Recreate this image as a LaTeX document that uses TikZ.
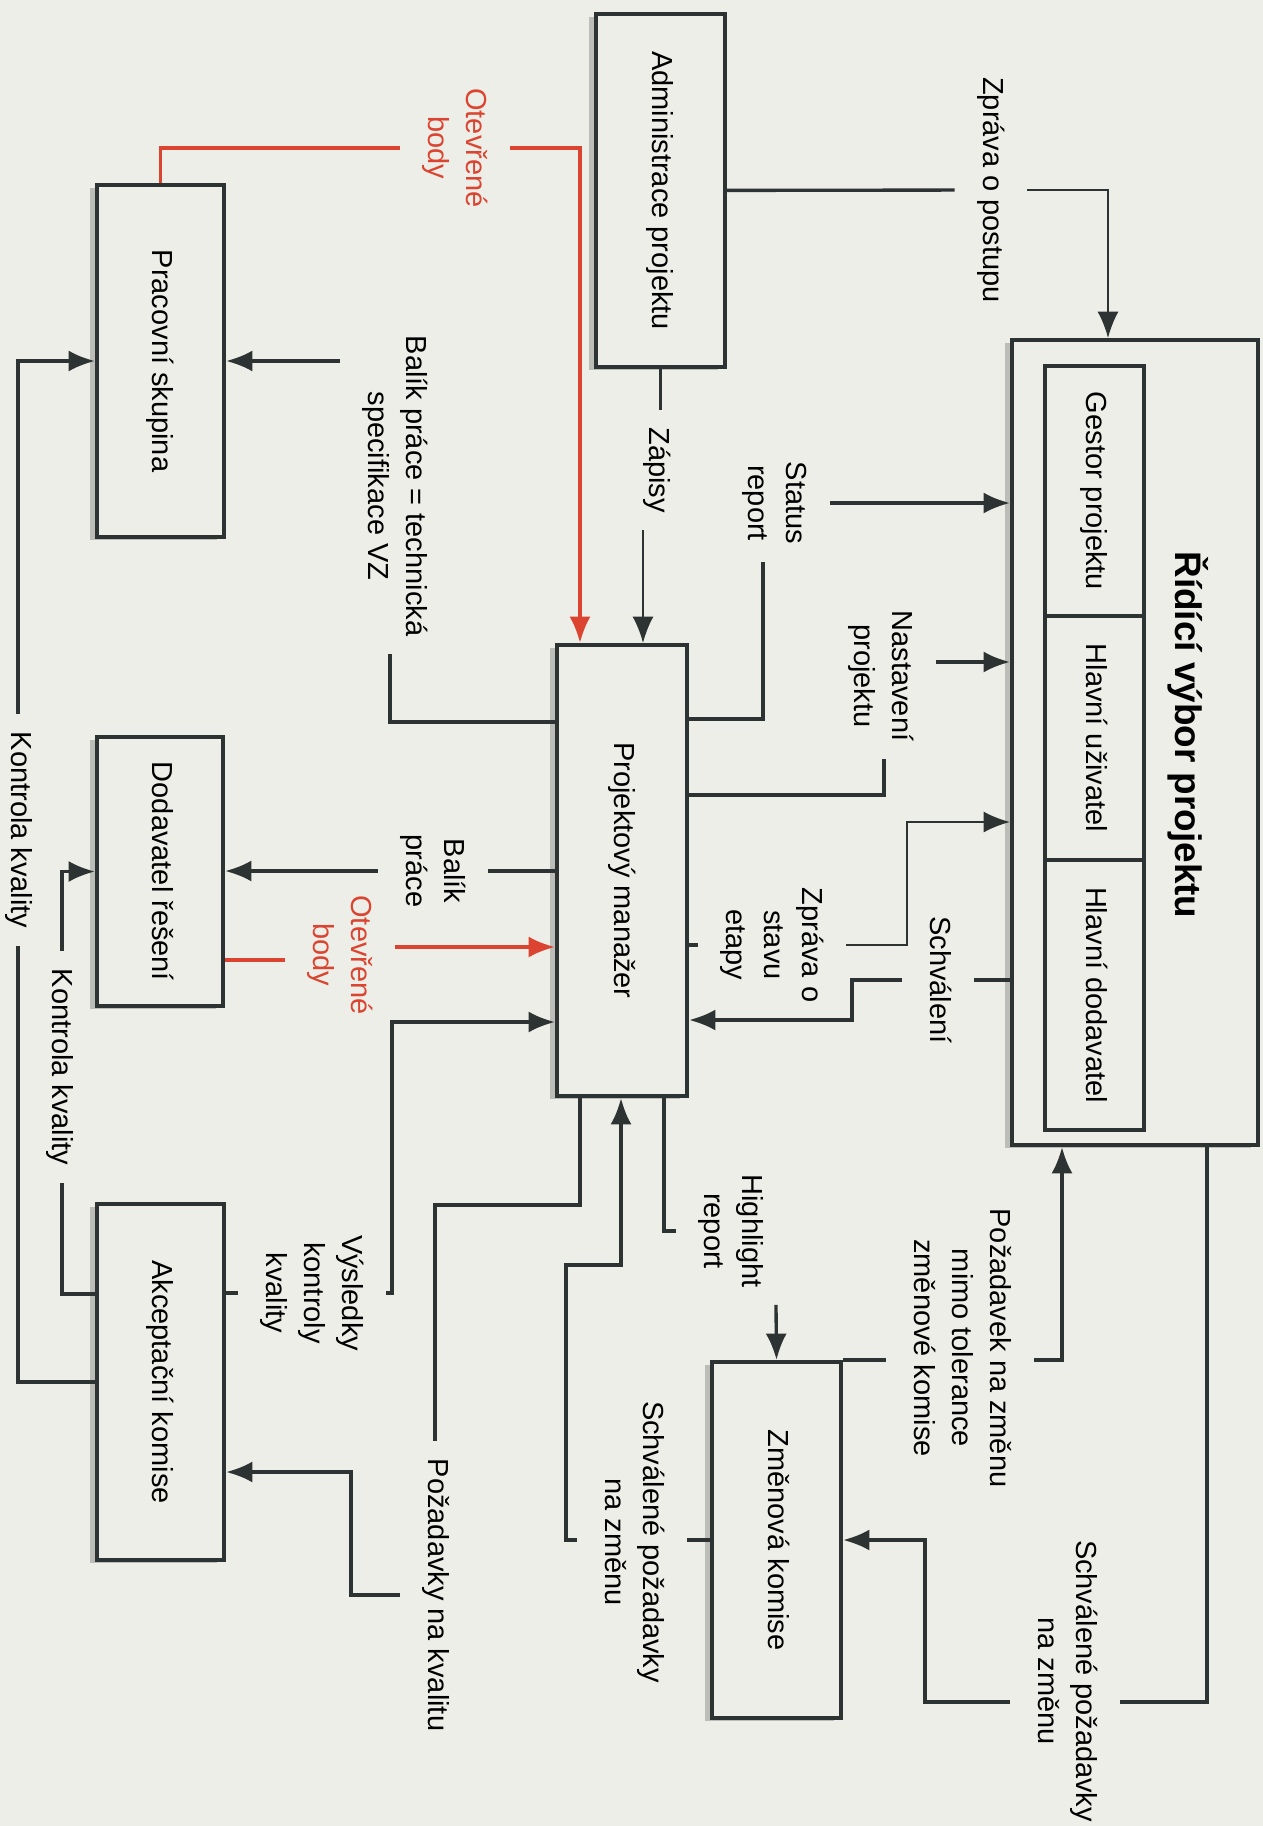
\documentclass[tikz,border=0pt]{standalone}
\usepackage{fontspec}
\setmainfont{Liberation Sans}
\usepackage{graphicx}
\usetikzlibrary{arrows.meta,shadows}
\definecolor{paper}{RGB}{238,238,232}
\definecolor{ink}{RGB}{45,50,50}
\definecolor{redink}{RGB}{218,68,48}
\newcommand{\vtxt}[1]{\rotatebox{-90}{\begin{tabular}{@{}c@{}}#1\end{tabular}}}
\begin{document}
\begin{tikzpicture}[>={Latex[length=15pt,width=12pt]}, x=0.02cm, y=-0.02cm,
  color=ink, line width=1.9pt,
  box/.style={draw=ink, line width=2.4pt, fill=paper, inner sep=0pt, text=black,
    font=\fontsize{16.5}{21.6}\selectfont,
    drop shadow={shadow xshift=-4pt, shadow yshift=-1.5pt, opacity=.45}},
  part/.style={draw=ink, line width=1.9pt, inner sep=0pt, minimum width=1.98cm,
    text=black, font=\fontsize{16.5}{21.6}\selectfont},
  lbl/.style={inner sep=9pt, text=black, font=\fontsize{16.5}{21.6}\selectfont},
  redlbl/.style={lbl, text=redink},
  redwire/.style={draw=redink},
  fine/.style={line width=1.2pt}]
\fill[paper] (0,0) rectangle (1263,1826);
\useasboundingbox (0,0) rectangle (1263,1826);

\node[box, minimum width=2.58cm, minimum height=7.06cm] (adm) at (660.5,190.5) {\vtxt{Administrace projektu}};
\node[box, minimum width=4.92cm, minimum height=16.1cm] (rvp) at (1135,742.5) {};
\node[part, minimum height=5cm] (gest) at (1094.5,491) {\vtxt{Gestor projektu}};
\node[part, minimum height=4.88cm] (uziv) at (1094.5,738) {\vtxt{Hlavní uživatel}};
\node[part, minimum height=5.4cm] (dod) at (1094.5,995) {\vtxt{Hlavní dodavatel}};
\node[text=black, font=\fontsize{21}{25}\selectfont\bfseries] (rvpt) at (1185,735) {\vtxt{Řídící výbor projektu}};
\node[box, minimum width=2.54cm, minimum height=7.04cm] (pracovni) at (160.5,361) {\vtxt{Pracovní skupina}};
\node[box, minimum width=2.6cm, minimum height=9.02cm] (pm) at (622,870.5) {\vtxt{Projektový manažer}};
\node[box, minimum width=2.52cm, minimum height=5.38cm] (dodavatel) at (160,871.5) {\vtxt{Dodavatel řešení}};
\node[box, minimum width=2.54cm, minimum height=7.12cm] (akc) at (160.5,1382) {\vtxt{Akceptační komise}};
\node[box, minimum width=2.58cm, minimum height=7.12cm] (zmen) at (776.5,1540) {\vtxt{Změnová komise}};

\node[lbl] (lzp) at (991,190) {\vtxt{Zpráva o postupu}};
\node[redlbl] (lob1) at (455,148) {\vtxt{Otevřené\\body}};
\node[lbl] (lzap) at (657,470) {\vtxt{Zápisy}};
\node[lbl] (lstat) at (775,503) {\vtxt{Status\\report}};
\node[lbl] (lnast) at (881,676) {\vtxt{Nastavení\\projektu}};
\node[lbl] (letap) at (772,945) {\vtxt{Zpráva o\\stavu\\etapy}};
\node[lbl] (lschv) at (938,980) {\vtxt{Schválení}};
\node[lbl] (lbal1) at (395,486) {\vtxt{Balík práce = technická\\specifikace VZ}};
\node[lbl] (lbal2) at (433,871) {\vtxt{Balík\\práce}};
\node[redlbl] (lob2) at (340,955) {\vtxt{Otevřené\\body}};
\node[lbl] (lvys) at (312,1293) {\vtxt{Výsledky\\kontroly\\kvality}};
\node[lbl] (lpkv) at (436,1595) {\vtxt{Požadavky na kvalitu}};
\node[lbl] (lspz1) at (632,1542) {\vtxt{Schválené požadavky\\na změnu}};
\node[lbl] (lhr) at (731,1231) {\vtxt{Highlight\\report}};
\node[lbl] (lpoz) at (960,1348) {\vtxt{Požadavek na změnu\\mimo tolerance\\změnové komise}};
\node[lbl] (lspz2) at (1065,1681) {\vtxt{Schválené požadavky\\na změnu}};
\node[lbl] (lkk1) at (19,830) {\vtxt{Kontrola kvality}};
\node[lbl] (lkk2) at (60,1067) {\vtxt{Kontrola kvality}};

\draw (adm) -- (lzp);
\draw[fine, ->] (lzp) -| (1108,0 |- rvp.north);
\draw[redwire] (pracovni.north) |- (lob1);
\draw[redwire, ->] (lob1) -| (580,0 |- pm.north);
\draw (adm.south) -- (adm.south |- lzap.north);
\draw[fine, ->] (643,0 |- lzap.south) -- (643,0 |- pm.north);
\draw (pm.east |- 0,719) -| (763,0 |- lstat.south);
\draw[->] (lstat) -- (rvp.west |- lstat);
\draw (pm.east |- 0,795) -| (884,0 |- lnast.south);
\draw[->] (lnast.east |- 0,662) -- (rvp.west |- 0,662);
\draw (pm.east |- letap) -- (letap);
\draw[fine, ->] (letap) -| (907,822) -- (rvp.west |- 0,822);
\draw (rvp.west |- lschv) -- (lschv);
\draw[->] (lschv) -| (852,1020) -- (pm.east |- 0,1020);
\draw (pm.west |- 0,722) -| (390,0 |- lbal1.south);
\draw[->] (lbal1.west |- pracovni) -- (pracovni);
\draw (pm.west |- lbal2) -- (lbal2);
\draw[->] (lbal2) -- (dodavatel.east |- lbal2);
\draw[redwire] (dodavatel.east |- 0,960) -- (lob2.west |- 0,960);
\draw[redwire, ->] (lob2.east |- 0,947) -- (pm.west |- 0,947);
\draw (akc.east |- lvys) -- (lvys);
\draw[->] (lvys) -| (392,1022) -- (pm.west |- 0,1022);
\draw (580,0 |- pm.south) |- (435,1205) -- (435,0 |- lpkv.north);
\draw[->] (lpkv) -| (351,1472) -- (akc.east |- 0,1472);
\draw (zmen.west) -- (lspz1.east |- zmen.west);
\draw[->] (lspz1.west |- zmen.west) -| (566,1265) -| (621,0 |- pm.south);
\draw (664,0 |- pm.south) |- (lhr);
\draw[->] (776,0 |- lhr.south) -- (zmen.north);
\draw (zmen.north east) -- (lpoz.west |- zmen.north);
\draw[->] (lpoz.east |- zmen.north) -| (1062,0 |- rvp.south);
\draw (1207,0 |- rvp.south) |- (lspz2.east |- 0,1702);
\draw[->] (lspz2.west |- 0,1702) -| (925,0 |- zmen.east) -- (zmen.east);
\draw (akc.west) -| (18,0 |- lkk1.south);
\draw[->] (18,0 |- lkk1.north) |- (pracovni.west);
\draw (akc.west |- 0,1294) -| (62,0 |- lkk2.south);
\draw[->] (62,0 |- lkk2.north) |- (dodavatel.west);
\end{tikzpicture}
\end{document}
